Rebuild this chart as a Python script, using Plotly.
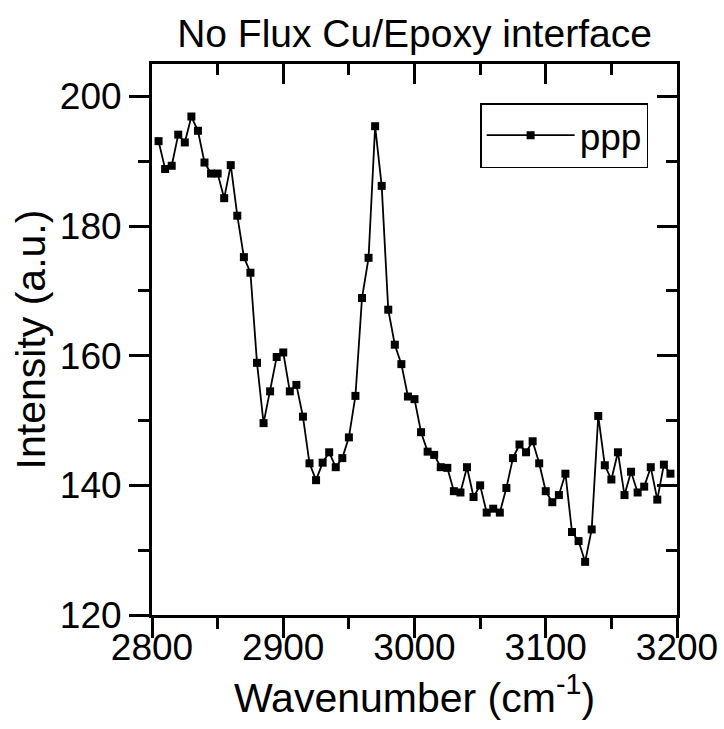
import plotly.graph_objects as go

wavenumber = [2805, 2810, 2815, 2820, 2825, 2830, 2835, 2840, 2845, 2850,
              2855, 2860, 2865, 2870, 2875, 2880, 2885, 2890, 2895, 2900,
              2905, 2910, 2915, 2920, 2925, 2930, 2935, 2940, 2945, 2950,
              2955, 2960, 2965, 2970, 2975, 2980, 2985, 2990, 2995, 3000,
              3005, 3010, 3015, 3020, 3025, 3030, 3035, 3040, 3045, 3050,
              3055, 3060, 3065, 3070, 3075, 3080, 3085, 3090, 3095, 3100,
              3105, 3110, 3115, 3120, 3125, 3130, 3135, 3140, 3145, 3150,
              3155, 3160, 3165, 3170, 3175, 3180, 3185, 3190, 3195]
intensity = [193.1, 188.8, 189.3, 194.1, 192.9, 196.9, 194.7, 189.8, 188.1, 188.1,
             184.3, 189.4, 181.6, 175.2, 172.8, 158.9, 149.6, 154.5, 159.8, 160.5,
             154.5, 155.5, 150.6, 143.4, 140.8, 143.5, 145.1, 142.8, 144.2, 147.4,
             153.8, 168.9, 175.1, 195.4, 186.2, 167.1, 161.7, 158.7, 153.7, 153.3,
             148.2, 145.2, 144.7, 142.8, 142.7, 139.1, 138.9, 142.8, 138.2, 140.0,
             135.8, 136.4, 135.8, 139.6, 144.2, 146.3, 145.1, 146.8, 143.4, 139.1,
             137.4, 138.5, 141.8, 132.8, 131.4, 128.2, 133.2, 150.7, 143.1, 140.9,
             145.1, 138.5, 142.1, 138.9, 139.8, 142.8, 137.8, 143.2, 141.8]
series_name = "ppp"
x_ticks = [2800, 2900, 3000, 3100, 3200]
y_ticks = [120, 140, 160, 180, 200]

FONT = "Arial, Liberation Sans, sans-serif"
TICK_FS = 37
TITLE_FS = 41

fig = go.Figure()
fig.add_trace(go.Scatter(
    x=wavenumber, y=intensity, name=series_name, mode="lines+markers",
    line=dict(color="black", width=1.8),
    marker=dict(symbol="square", size=8, color="black"),
))
# empty trace to create mirrored top/right axes
fig.add_trace(go.Scatter(x=[], y=[], xaxis="x2", yaxis="y2", showlegend=False))

common = dict(showline=True, linecolor="black", linewidth=3, showgrid=False,
              zeroline=False, tickcolor="black", tickwidth=3, automargin=False)

fig.update_layout(
    width=724, height=729,
    margin=dict(l=152, r=47, t=64, b=114),
    paper_bgcolor="white", plot_bgcolor="white",
    font=dict(family=FONT, size=TICK_FS, color="black"),
    title=dict(text="No Flux Cu/Epoxy interface", x=0.5, xref="paper",
               y=1 - 33 / 729, yanchor="middle", font=dict(size=39)),
    xaxis=dict(range=[2800, 3200], tickvals=x_ticks, ticks="outside", ticklen=20,
               ticklabelstandoff=-22, tickfont=dict(size=TICK_FS),
               minor=dict(dtick=50, ticklen=11, tickwidth=3, tickcolor="black", ticks="outside"),
               title=dict(text="Wavenumber (cm<sup>-1</sup>)", standoff=0, font=dict(size=TITLE_FS)),
               **common),
    yaxis=dict(range=[120, 205], tickvals=y_ticks, ticks="outside", ticklen=20,
               tickfont=dict(size=TICK_FS),
               minor=dict(dtick=10, ticklen=11, tickwidth=3, tickcolor="black", ticks="outside"),
               title=dict(text="Intensity (a.u.)", standoff=2, font=dict(size=TITLE_FS)),
               **common),
    xaxis2=dict(range=[2800, 3200], overlaying="x", side="top", anchor="y",
                tickvals=x_ticks, ticks="inside", ticklen=20, showticklabels=False,
                minor=dict(dtick=50, ticklen=11, tickwidth=3, tickcolor="black", ticks="inside"),
                **common),
    yaxis2=dict(range=[120, 205], overlaying="y", side="right", anchor="x",
                tickvals=y_ticks, ticks="inside", ticklen=20, showticklabels=False,
                minor=dict(dtick=10, ticklen=11, tickwidth=3, tickcolor="black", ticks="inside"),
                **common),
    showlegend=True,
    legend=dict(x=0.625, y=0.929, xanchor="left", yanchor="top",
                bordercolor="black", borderwidth=1.5, bgcolor="white",
                font=dict(size=TICK_FS), itemwidth=88),
)

fig.write_html("out.html")
